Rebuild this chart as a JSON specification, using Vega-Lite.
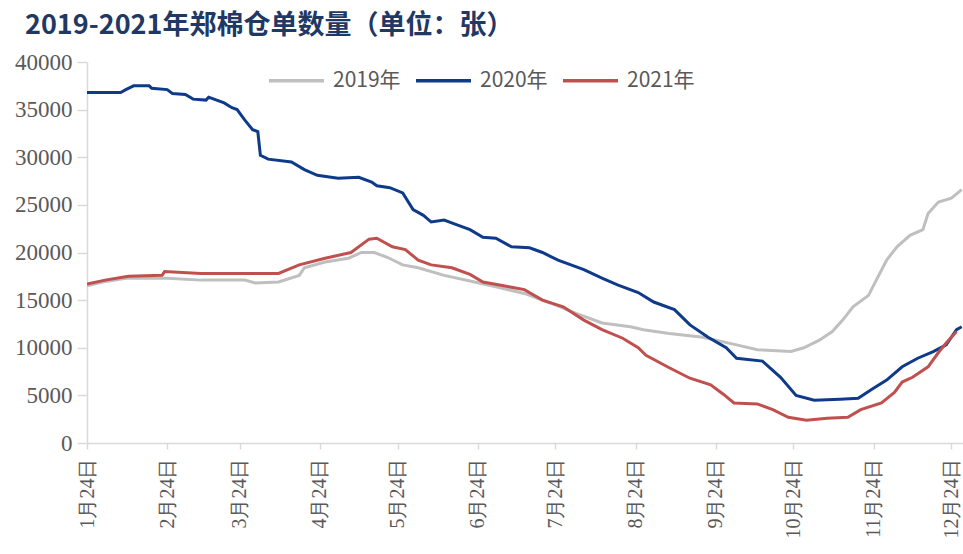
{
  "$schema": "https://vega.github.io/schema/vega-lite/v6.json",
  "width": 876,
  "height": 381,
  "autosize": "none",
  "padding": {"left": 87, "top": 62, "right": 0, "bottom": 111},
  "background": "white",
  "title": {
    "text": "2019-2021年郑棉仓单数量（单位：张）",
    "anchor": "start",
    "frame": "group",
    "dx": -62,
    "offset": 11,
    "font": "Noto Sans CJK SC",
    "fontSize": 27,
    "fontWeight": "bold",
    "color": "#1F3864"
  },
  "config": {
    "view": {"stroke": null},
    "axis": {"grid": false}
  },
  "datasets": {
    "rows": [
      {"date": "2021/01/24", "s": "2019年", "v": 16500},
      {"date": "2021/01/30", "s": "2019年", "v": 16900},
      {"date": "2021/02/08", "s": "2019年", "v": 17300},
      {"date": "2021/02/24", "s": "2019年", "v": 17300},
      {"date": "2021/03/09", "s": "2019年", "v": 17100},
      {"date": "2021/03/26", "s": "2019年", "v": 17100},
      {"date": "2021/03/30", "s": "2019年", "v": 16800},
      {"date": "2021/04/08", "s": "2019年", "v": 16900},
      {"date": "2021/04/16", "s": "2019年", "v": 17600},
      {"date": "2021/04/18", "s": "2019年", "v": 18400},
      {"date": "2021/04/26", "s": "2019年", "v": 19000},
      {"date": "2021/05/05", "s": "2019年", "v": 19400},
      {"date": "2021/05/10", "s": "2019年", "v": 20000},
      {"date": "2021/05/15", "s": "2019年", "v": 20000},
      {"date": "2021/05/20", "s": "2019年", "v": 19500},
      {"date": "2021/05/26", "s": "2019年", "v": 18700},
      {"date": "2021/06/01", "s": "2019年", "v": 18400},
      {"date": "2021/06/11", "s": "2019年", "v": 17600},
      {"date": "2021/06/21", "s": "2019年", "v": 17000},
      {"date": "2021/07/01", "s": "2019年", "v": 16400},
      {"date": "2021/07/12", "s": "2019年", "v": 15700},
      {"date": "2021/07/22", "s": "2019年", "v": 14700},
      {"date": "2021/08/01", "s": "2019年", "v": 13600},
      {"date": "2021/08/11", "s": "2019年", "v": 12600},
      {"date": "2021/08/22", "s": "2019年", "v": 12200},
      {"date": "2021/08/27", "s": "2019年", "v": 11900},
      {"date": "2021/09/06", "s": "2019年", "v": 11500},
      {"date": "2021/09/19", "s": "2019年", "v": 11100},
      {"date": "2021/10/02", "s": "2019年", "v": 10300},
      {"date": "2021/10/10", "s": "2019年", "v": 9800},
      {"date": "2021/10/23", "s": "2019年", "v": 9600},
      {"date": "2021/10/28", "s": "2019年", "v": 10000},
      {"date": "2021/11/03", "s": "2019年", "v": 10800},
      {"date": "2021/11/08", "s": "2019年", "v": 11700},
      {"date": "2021/11/12", "s": "2019年", "v": 12900},
      {"date": "2021/11/16", "s": "2019年", "v": 14300},
      {"date": "2021/11/22", "s": "2019年", "v": 15500},
      {"date": "2021/11/25", "s": "2019年", "v": 17100},
      {"date": "2021/11/29", "s": "2019年", "v": 19200},
      {"date": "2021/12/03", "s": "2019年", "v": 20600},
      {"date": "2021/12/08", "s": "2019年", "v": 21800},
      {"date": "2021/12/13", "s": "2019年", "v": 22400},
      {"date": "2021/12/15", "s": "2019年", "v": 24100},
      {"date": "2021/12/19", "s": "2019年", "v": 25300},
      {"date": "2021/12/24", "s": "2019年", "v": 25700},
      {"date": "2021/12/28", "s": "2019年", "v": 26600},

      {"date": "2021/01/24", "s": "2020年", "v": 36800},
      {"date": "2021/02/06", "s": "2020年", "v": 36800},
      {"date": "2021/02/08", "s": "2020年", "v": 37100},
      {"date": "2021/02/11", "s": "2020年", "v": 37500},
      {"date": "2021/02/17", "s": "2020年", "v": 37500},
      {"date": "2021/02/18", "s": "2020年", "v": 37250},
      {"date": "2021/02/24", "s": "2020年", "v": 37100},
      {"date": "2021/02/26", "s": "2020年", "v": 36700},
      {"date": "2021/03/03", "s": "2020年", "v": 36600},
      {"date": "2021/03/06", "s": "2020年", "v": 36100},
      {"date": "2021/03/11", "s": "2020年", "v": 36000},
      {"date": "2021/03/12", "s": "2020年", "v": 36300},
      {"date": "2021/03/13", "s": "2020年", "v": 36200},
      {"date": "2021/03/18", "s": "2020年", "v": 35700},
      {"date": "2021/03/21", "s": "2020年", "v": 35200},
      {"date": "2021/03/23", "s": "2020年", "v": 35000},
      {"date": "2021/03/26", "s": "2020年", "v": 33900},
      {"date": "2021/03/29", "s": "2020年", "v": 32900},
      {"date": "2021/03/31", "s": "2020年", "v": 32700},
      {"date": "2021/04/01", "s": "2020年", "v": 30200},
      {"date": "2021/04/04", "s": "2020年", "v": 29800},
      {"date": "2021/04/13", "s": "2020年", "v": 29500},
      {"date": "2021/04/18", "s": "2020年", "v": 28700},
      {"date": "2021/04/23", "s": "2020年", "v": 28100},
      {"date": "2021/05/01", "s": "2020年", "v": 27800},
      {"date": "2021/05/09", "s": "2020年", "v": 27900},
      {"date": "2021/05/14", "s": "2020年", "v": 27400},
      {"date": "2021/05/16", "s": "2020年", "v": 27000},
      {"date": "2021/05/21", "s": "2020年", "v": 26800},
      {"date": "2021/05/26", "s": "2020年", "v": 26250},
      {"date": "2021/05/30", "s": "2020年", "v": 24500},
      {"date": "2021/06/03", "s": "2020年", "v": 23900},
      {"date": "2021/06/06", "s": "2020年", "v": 23200},
      {"date": "2021/06/11", "s": "2020年", "v": 23400},
      {"date": "2021/06/16", "s": "2020年", "v": 22900},
      {"date": "2021/06/21", "s": "2020年", "v": 22400},
      {"date": "2021/06/26", "s": "2020年", "v": 21600},
      {"date": "2021/07/01", "s": "2020年", "v": 21500},
      {"date": "2021/07/07", "s": "2020年", "v": 20600},
      {"date": "2021/07/14", "s": "2020年", "v": 20500},
      {"date": "2021/07/19", "s": "2020年", "v": 20000},
      {"date": "2021/07/25", "s": "2020年", "v": 19200},
      {"date": "2021/07/30", "s": "2020年", "v": 18700},
      {"date": "2021/08/04", "s": "2020年", "v": 18200},
      {"date": "2021/08/11", "s": "2020年", "v": 17300},
      {"date": "2021/08/17", "s": "2020年", "v": 16600},
      {"date": "2021/08/25", "s": "2020年", "v": 15800},
      {"date": "2021/08/31", "s": "2020年", "v": 14800},
      {"date": "2021/09/08", "s": "2020年", "v": 14000},
      {"date": "2021/09/14", "s": "2020年", "v": 12400},
      {"date": "2021/09/21", "s": "2020年", "v": 11100},
      {"date": "2021/09/28", "s": "2020年", "v": 10000},
      {"date": "2021/10/02", "s": "2020年", "v": 8900},
      {"date": "2021/10/12", "s": "2020年", "v": 8600},
      {"date": "2021/10/19", "s": "2020年", "v": 6900},
      {"date": "2021/10/25", "s": "2020年", "v": 5000},
      {"date": "2021/11/01", "s": "2020年", "v": 4500},
      {"date": "2021/11/11", "s": "2020年", "v": 4600},
      {"date": "2021/11/18", "s": "2020年", "v": 4700},
      {"date": "2021/11/23", "s": "2020年", "v": 5600},
      {"date": "2021/11/29", "s": "2020年", "v": 6600},
      {"date": "2021/12/05", "s": "2020年", "v": 8000},
      {"date": "2021/12/11", "s": "2020年", "v": 8900},
      {"date": "2021/12/17", "s": "2020年", "v": 9600},
      {"date": "2021/12/22", "s": "2020年", "v": 10300},
      {"date": "2021/12/26", "s": "2020年", "v": 11900},
      {"date": "2021/12/28", "s": "2020年", "v": 12200},

      {"date": "2021/01/24", "s": "2021年", "v": 16700},
      {"date": "2021/01/31", "s": "2021年", "v": 17100},
      {"date": "2021/02/09", "s": "2021年", "v": 17500},
      {"date": "2021/02/22", "s": "2021年", "v": 17600},
      {"date": "2021/02/23", "s": "2021年", "v": 18000},
      {"date": "2021/03/09", "s": "2021年", "v": 17800},
      {"date": "2021/03/29", "s": "2021年", "v": 17800},
      {"date": "2021/04/08", "s": "2021年", "v": 17800},
      {"date": "2021/04/16", "s": "2021年", "v": 18700},
      {"date": "2021/04/26", "s": "2021年", "v": 19400},
      {"date": "2021/05/06", "s": "2021年", "v": 20000},
      {"date": "2021/05/13", "s": "2021年", "v": 21400},
      {"date": "2021/05/16", "s": "2021年", "v": 21500},
      {"date": "2021/05/22", "s": "2021年", "v": 20600},
      {"date": "2021/05/27", "s": "2021年", "v": 20300},
      {"date": "2021/06/01", "s": "2021年", "v": 19200},
      {"date": "2021/06/06", "s": "2021年", "v": 18700},
      {"date": "2021/06/14", "s": "2021年", "v": 18400},
      {"date": "2021/06/21", "s": "2021年", "v": 17700},
      {"date": "2021/06/26", "s": "2021年", "v": 16900},
      {"date": "2021/07/04", "s": "2021年", "v": 16500},
      {"date": "2021/07/12", "s": "2021年", "v": 16100},
      {"date": "2021/07/19", "s": "2021年", "v": 15000},
      {"date": "2021/07/27", "s": "2021年", "v": 14300},
      {"date": "2021/08/04", "s": "2021年", "v": 12900},
      {"date": "2021/08/11", "s": "2021年", "v": 11900},
      {"date": "2021/08/19", "s": "2021年", "v": 11000},
      {"date": "2021/08/25", "s": "2021年", "v": 10000},
      {"date": "2021/08/28", "s": "2021年", "v": 9200},
      {"date": "2021/09/06", "s": "2021年", "v": 7900},
      {"date": "2021/09/14", "s": "2021年", "v": 6800},
      {"date": "2021/09/22", "s": "2021年", "v": 6100},
      {"date": "2021/09/27", "s": "2021年", "v": 5100},
      {"date": "2021/10/01", "s": "2021年", "v": 4200},
      {"date": "2021/10/10", "s": "2021年", "v": 4100},
      {"date": "2021/10/16", "s": "2021年", "v": 3500},
      {"date": "2021/10/22", "s": "2021年", "v": 2700},
      {"date": "2021/10/29", "s": "2021年", "v": 2400},
      {"date": "2021/11/06", "s": "2021年", "v": 2600},
      {"date": "2021/11/14", "s": "2021年", "v": 2700},
      {"date": "2021/11/19", "s": "2021年", "v": 3500},
      {"date": "2021/11/27", "s": "2021年", "v": 4200},
      {"date": "2021/12/02", "s": "2021年", "v": 5300},
      {"date": "2021/12/05", "s": "2021年", "v": 6400},
      {"date": "2021/12/09", "s": "2021年", "v": 6900},
      {"date": "2021/12/15", "s": "2021年", "v": 8000},
      {"date": "2021/12/19", "s": "2021年", "v": 9500},
      {"date": "2021/12/22", "s": "2021年", "v": 10500},
      {"date": "2021/12/26", "s": "2021年", "v": 11700}
    ]
  },
  "data": {"name": "rows"},
  "mark": {"type": "line", "strokeWidth": 3, "clip": true},
  "encoding": {
    "x": {
      "field": "date",
      "type": "temporal",
      "scale": {
        "domain": [
          {"year": 2021, "month": 1, "date": 24},
          {"year": 2021, "month": 12, "date": 28, "hours": 12}
        ]
      },
      "axis": {
        "title": null,
        "values": [
          {"year": 2021, "month": 1, "date": 24},
          {"year": 2021, "month": 2, "date": 24},
          {"year": 2021, "month": 3, "date": 24},
          {"year": 2021, "month": 4, "date": 24},
          {"year": 2021, "month": 5, "date": 24},
          {"year": 2021, "month": 6, "date": 24},
          {"year": 2021, "month": 7, "date": 24},
          {"year": 2021, "month": 8, "date": 24},
          {"year": 2021, "month": 9, "date": 24},
          {"year": 2021, "month": 10, "date": 24},
          {"year": 2021, "month": 11, "date": 24},
          {"year": 2021, "month": 12, "date": 24}
        ],
        "format": "%-m月%-d日",
        "labelAngle": -90,
        "labelFont": "Liberation Serif",
        "labelFontSize": 20,
        "labelColor": "#595959",
        "labelPadding": 9,
        "labelOverlap": false,
        "labelFlush": false,
        "tickSize": 6,
        "tickColor": "#D9D9D9",
        "tickWidth": 1.5,
        "domainColor": "#D9D9D9",
        "domainWidth": 1.5,
        "grid": false
      }
    },
    "y": {
      "field": "v",
      "type": "quantitative",
      "scale": {"domain": [0, 40000], "nice": false},
      "axis": {
        "title": null,
        "values": [0, 5000, 10000, 15000, 20000, 25000, 30000, 35000, 40000],
        "format": "d",
        "labelFont": "Liberation Serif",
        "labelFontSize": 23,
        "labelColor": "#595959",
        "labelPadding": 5,
        "tickSize": 10,
        "tickColor": "#D9D9D9",
        "tickWidth": 1.5,
        "domainColor": "#D9D9D9",
        "domainWidth": 1.5,
        "grid": false
      }
    },
    "color": {
      "field": "s",
      "type": "nominal",
      "scale": {
        "domain": ["2019年", "2020年", "2021年"],
        "range": ["#BFBFBF", "#0E3A8A", "#C0504D"]
      },
      "legend": {
        "title": null,
        "orient": "none",
        "legendX": 180,
        "legendY": -11,
        "direction": "horizontal",
        "symbolType": "stroke",
        "symbolSize": 3025,
        "symbolStrokeWidth": 3.5,
        "labelFont": "Noto Sans CJK SC",
        "labelFontSize": 21,
        "labelColor": "#595959",
        "labelOffset": 7,
        "columnPadding": 8
      }
    }
  }
}
